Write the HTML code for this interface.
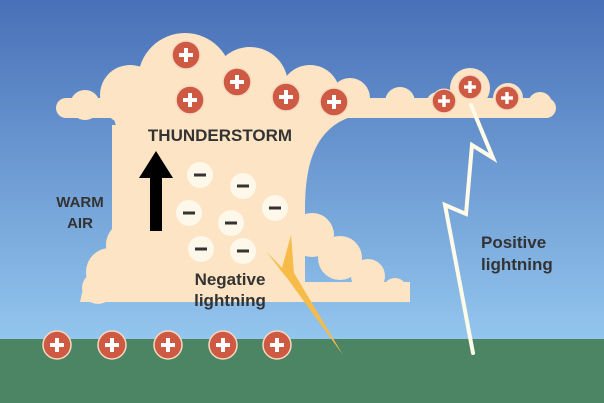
<!DOCTYPE html>
<html><head><meta charset="utf-8"><style>
html,body{margin:0;padding:0;width:604px;height:403px;overflow:hidden}
text{font-family:"Liberation Sans","DejaVu Sans",sans-serif;fill:#333}
</style></head><body>
<svg width="604" height="403" viewBox="0 0 604 403" xmlns="http://www.w3.org/2000/svg">
<defs>
<linearGradient id="sky" x1="0" y1="0" x2="0" y2="1">
<stop offset="0" stop-color="#4870b8"/><stop offset="1" stop-color="#93c6ee"/>
</linearGradient>
<g id="plus"><circle r="14" fill="#cf5a44" stroke="#f6d9c0" stroke-width="1.5"/><rect x="-7" y="-2" width="14" height="4" fill="#fff"/><rect x="-2" y="-7" width="4" height="14" fill="#fff"/></g>
<g id="minus"><circle r="13" fill="#fdf8ea"/><rect x="-6" y="-1.5" width="12" height="3" fill="#333"/></g>
</defs>
<rect width="604" height="340" fill="url(#sky)"/>
<rect y="339" width="604" height="64" fill="#4b8563"/>
<g fill="#fce4c4">
<path d="M112 112 L372 112 C322 118 305 150 305 210 L305 302 L80 302 L84 284 L112 250 L120 140 Z"/>
<rect x="56" y="98" width="500" height="20" rx="10"/>
<rect x="112" y="125" width="100" height="140"/>
<circle cx="85" cy="105" r="15"/><circle cx="130" cy="95" r="30"/><circle cx="185" cy="80" r="47"/>
<circle cx="250" cy="85" r="38"/><circle cx="310" cy="95" r="30"/><circle cx="350" cy="98" r="20"/>
<circle cx="400" cy="102" r="15"/><circle cx="438" cy="104" r="12"/><circle cx="470" cy="88" r="20"/>
<circle cx="508" cy="98" r="15"/><circle cx="540" cy="104" r="12"/>
<circle cx="130" cy="150" r="18"/><circle cx="138" cy="195" r="16"/><circle cx="130" cy="245" r="24"/>
<circle cx="110" cy="272" r="24"/><circle cx="98" cy="288" r="16"/>
<circle cx="312" cy="235" r="22"/><circle cx="340" cy="258" r="22"/><circle cx="368" cy="276" r="17"/><circle cx="395" cy="290" r="12"/>
<rect x="300" y="282" width="110" height="20"/>
</g>
<use href="#plus" x="186" y="55"/><use href="#plus" x="237" y="82"/><use href="#plus" x="190" y="100"/>
<use href="#plus" x="286" y="97"/><use href="#plus" x="334" y="102"/>
<use href="#plus" x="444" y="101" transform="translate(444 101) scale(0.85) translate(-444 -101)"/>
<use href="#plus" x="470" y="87" transform="translate(470 87) scale(0.85) translate(-470 -87)"/>
<use href="#plus" x="507" y="98" transform="translate(507 98) scale(0.85) translate(-507 -98)"/>
<use href="#minus" x="200" y="175"/><use href="#minus" x="243" y="186"/><use href="#minus" x="189" y="213"/>
<use href="#minus" x="275" y="208"/><use href="#minus" x="231" y="223"/><use href="#minus" x="201" y="249"/><use href="#minus" x="243" y="251"/>
<rect x="150" y="175" width="12" height="56" fill="#000"/>
<polygon points="139,178 156,151 173,178" fill="#000"/>
<text x="220" y="141" font-size="17" font-weight="bold" text-anchor="middle">THUNDERSTORM</text>
<text x="80" y="207" font-size="15" font-weight="bold" text-anchor="middle">WARM</text>
<text x="80" y="228" font-size="15" font-weight="bold" text-anchor="middle">AIR</text>
<text x="230" y="285" font-size="17" font-weight="bold" text-anchor="middle">Negative</text>
<text x="230" y="306" font-size="17" font-weight="bold" text-anchor="middle">lightning</text>
<polygon points="266,251 282,268 291,235 294,273 343,355 287,278 282,272" fill="#f7bb4a"/>
<polyline points="471,105 493,158 472,145 466,214 445,205 473,353" fill="none" stroke="#fffbe8" stroke-width="4" stroke-linejoin="miter" stroke-linecap="round"/>
<text x="481" y="248" font-size="17" font-weight="bold">Positive</text>
<text x="481" y="270" font-size="17" font-weight="bold">lightning</text>
<use href="#plus" x="57" y="345"/><use href="#plus" x="112" y="345"/><use href="#plus" x="168" y="345"/>
<use href="#plus" x="223" y="345"/><use href="#plus" x="277" y="345"/>
</svg>
</body></html>
